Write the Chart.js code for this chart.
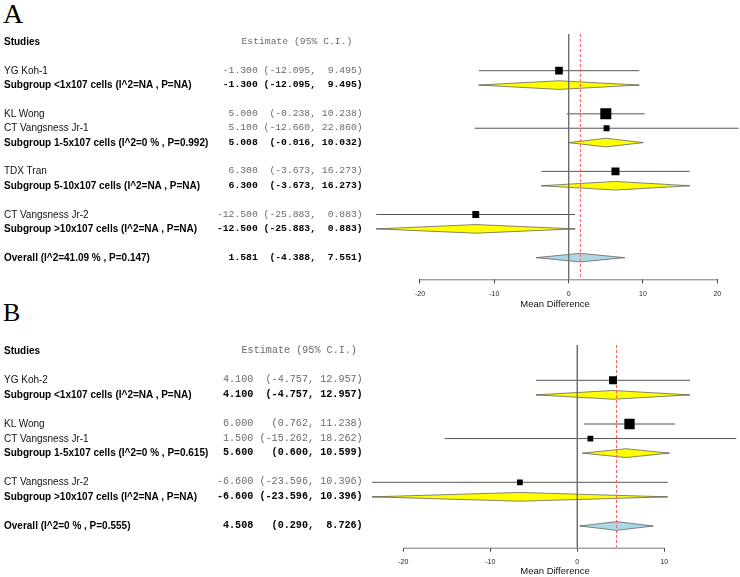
<!DOCTYPE html>
<html><head><meta charset="utf-8">
<script src="https://cdn.jsdelivr.net/npm/chart.js@4.4.0/dist/chart.umd.min.js"></script>
<style>
html,body{margin:0;padding:0;background:#fff;}
#wrap{position:relative;width:740px;height:577px;overflow:hidden;background:#fff;}
canvas{position:absolute;left:0;}
.t{position:absolute;white-space:pre;line-height:12px;transform:translateY(-50%);}
.lab{font-family:"Liberation Sans",Arial,sans-serif;font-size:10px;color:#111;}
.b{font-weight:bold;color:#000;}
.num{font-family:"Liberation Mono","Courier New",monospace;color:#6a6a6a;}
.num.b{color:#000;}
.letter{position:absolute;font-family:"Liberation Serif","Times New Roman",serif;color:#000;line-height:1;}
</style></head>
<body><div id="wrap">
<div class="letter" style="left:3px;top:0px;font-size:28px">A</div>
<div class="letter" style="left:3px;top:300px;font-size:26px">B</div>
<canvas id="ca" width="740" height="312" style="top:0;width:740px;height:312px"></canvas>
<canvas id="cb" width="740" height="266" style="top:311px;width:740px;height:266px"></canvas>
</div>
<script>
// ---------- Panel A data ----------
const studiesA = ["YG Koh-1", "KL Wong", "CT Vangsness Jr-1", "TDX Tran", "CT Vangsness Jr-2"];
const estA = [-1.300, 5.000, 5.100, 6.300, -12.500];
const loA  = [-12.095, -0.238, -12.660, -3.673, -25.883];
const hiA  = [9.495, 10.238, 22.860, 16.273, 0.883];
const groupA = [0, 1, 1, 2, 3];
const subLabelsA = ["Subgroup <1x107 cells (I^2=NA , P=NA)", "Subgroup 1-5x107 cells (I^2=0 % , P=0.992)",
                    "Subgroup 5-10x107 cells (I^2=NA , P=NA)", "Subgroup >10x107 cells (I^2=NA , P=NA)"];
const subEstA = [-1.300, 5.008, 6.300, -12.500];
const subLoA  = [-12.095, -0.016, -3.673, -25.883];
const subHiA  = [9.495, 10.032, 16.273, 0.883];
const overallLabelA = "Overall (I^2=41.09 % , P=0.147)";
const overallA = [1.581, -4.388, 7.551];
const ticksA = [-20, -10, 0, 10, 20];

// ---------- Panel B data ----------
const studiesB = ["YG Koh-2", "KL Wong", "CT Vangsness Jr-1", "CT Vangsness Jr-2"];
const estB = [4.100, 6.000, 1.500, -6.600];
const loB  = [-4.757, 0.762, -15.262, -23.596];
const hiB  = [12.957, 11.238, 18.262, 10.396];
const groupB = [0, 1, 1, 2];
const subLabelsB = ["Subgroup <1x107 cells (I^2=NA , P=NA)", "Subgroup 1-5x107 cells (I^2=0 % , P=0.615)",
                    "Subgroup >10x107 cells (I^2=NA , P=NA)"];
const subEstB = [4.100, 5.600, -6.600];
const subLoB  = [-4.757, 0.600, -23.596];
const subHiB  = [12.957, 10.599, 10.396];
const overallLabelB = "Overall (I^2=0 % , P=0.555)";
const overallB = [4.508, 0.290, 8.726];
const ticksB = [-20, -10, 0, 10];

// ---------- builders ----------
function buildRows(studies, est, lo, hi, group, subLabels, subEst, subLo, subHi, ovLabel, ov) {
  const rows = []; let r = 1;
  subLabels.forEach((lab, g) => {
    studies.forEach((s, i) => {
      if (group[i] === g) rows.push({type: 'study', label: s, est: est[i], lo: lo[i], hi: hi[i], y: r++});
    });
    rows.push({type: 'sub', label: lab, est: subEst[g], lo: subLo[g], hi: subHi[g], y: r++});
    r++;
  });
  rows.push({type: 'overall', label: ovLabel, est: ov[0], lo: ov[1], hi: ov[2], y: r});
  return rows;
}

const axisLinePlugin = {
  id: 'axisLine',
  afterDraw(chart, args, opts) {
    const xs = chart.scales.x, ctx = chart.ctx, y = chart.chartArea.bottom + 0.5;
    const t = opts.ticks;
    ctx.save();
    ctx.strokeStyle = '#777'; ctx.lineWidth = 1;
    ctx.beginPath();
    ctx.moveTo(xs.getPixelForValue(t[0]), y);
    ctx.lineTo(xs.getPixelForValue(t[t.length - 1]), y);
    ctx.stroke();
    ctx.restore();
  }
};

function makeChart(id, rows, cfg) {
  const ds = [];
  const H = 0.3; // diamond half height in row units
  ds.push({data: [{x: 0, y: cfg.yMin}, {x: 0, y: cfg.yMax}], showLine: true, borderColor: '#6e6e6e',
           borderWidth: 1, pointRadius: 0, order: 2});
  const ov = rows[rows.length - 1];
  ds.push({data: [{x: ov.est, y: cfg.yMin}, {x: ov.est, y: cfg.yMax}], showLine: true, borderColor: '#ff5a5a',
           borderWidth: 1, borderDash: [3, 2], pointRadius: 0, order: 2});
  const studyRows = rows.filter(r => r.type === 'study');
  const wts = studyRows.map(r => 1 / Math.pow((r.hi - r.lo) / 3.92, 2));
  const wmax = Math.max(...wts);
  studyRows.forEach(r => {
    ds.push({data: [{x: r.lo, y: r.y}, {x: r.hi, y: r.y}], showLine: true, borderColor: '#555',
             borderWidth: 1, pointRadius: 0, order: 3});
  });
  ds.push({data: studyRows.map(r => ({x: r.est, y: r.y})), showLine: false, pointStyle: 'rect',
           pointRadius: wts.map(w => cfg.maxSide * Math.pow(w / wmax, 0.25) / (2 * Math.SQRT1_2)),
           pointBackgroundColor: '#000', pointBorderWidth: 0, order: 1});
  rows.filter(r => r.type !== 'study').forEach(r => {
    ds.push({data: [{x: r.lo, y: r.y}, {x: r.hi, y: r.y}], showLine: true, borderColor: '#999',
             borderWidth: 1, pointRadius: 0, order: 4});
    ds.push({data: [{x: r.lo, y: r.y}, {x: r.est, y: r.y - H}, {x: r.hi, y: r.y}, {x: r.est, y: r.y + H}, {x: r.lo, y: r.y}],
             showLine: true, fill: 'shape', backgroundColor: r.type === 'sub' ? '#ffff00' : '#add8e6',
             borderColor: '#666', borderWidth: 0.8, borderJoinStyle: 'bevel', pointRadius: 0, tension: 0, order: 3});
  });
  return new Chart(document.getElementById(id), {
    type: 'scatter',
    data: {datasets: ds},
    plugins: [axisLinePlugin],
    options: {
      responsive: false, animation: false, events: [],
      layout: {autoPadding: false, padding: {left: 370, right: 0, top: cfg.padTop, bottom: 0}},
      plugins: {legend: {display: false}, tooltip: {enabled: false}, axisLine: {ticks: cfg.ticks}},
      scales: {
        x: {type: 'linear', position: 'bottom', min: cfg.xMin, max: cfg.xMax,
            afterBuildTicks: s => { s.ticks = cfg.ticks.map(v => ({value: v})); },
            afterFit: s => { s.height = cfg.axisH; s.paddingLeft = 0; s.paddingRight = 0; },
            border: {display: false},
            grid: {drawOnChartArea: false, drawTicks: true, tickLength: 4, tickColor: '#444', lineWidth: 1},
            ticks: {autoSkip: false, maxRotation: 0, padding: cfg.tickPad, color: '#222',
                    font: {family: 'Liberation Sans, Arial, sans-serif', size: 7}},
            title: {display: true, text: 'Mean Difference', color: '#111',
                    font: {family: 'Liberation Sans, Arial, sans-serif', size: 9.5},
                    padding: {top: 0, bottom: cfg.titlePad}}},
        y: {type: 'linear', display: false, reverse: true, min: cfg.yMin, max: cfg.yMax}
      }
    }
  });
}

function fmt(rows, r) {
  const e = r.est.toFixed(3), l = '(' + r.lo.toFixed(3) + ',', h = r.hi.toFixed(3) + ')';
  const we = Math.max(...rows.map(q => q.est.toFixed(3).length));
  const wl = Math.max(...rows.map(q => ('(' + q.lo.toFixed(3) + ',').length));
  const wh = Math.max(...rows.map(q => (q.hi.toFixed(3) + ')').length));
  return e.padStart(we) + ' ' + l.padStart(wl) + ' ' + h.padStart(wh);
}

function addText(txt, cls, top, style) {
  const d = document.createElement('div');
  d.className = 't ' + cls;
  d.textContent = txt;
  d.style.top = top + 'px';
  Object.assign(d.style, style);
  document.getElementById('wrap').appendChild(d);
}

function placeText(chart, canvasTop, rows, cfg) {
  const ys = chart.scales.y;
  const py = v => canvasTop + ys.getPixelForValue(v);
  addText('Studies', 'lab b', py(-1), {left: '4px'});
  addText('Estimate (95% C.I.)', 'num', py(-1), {left: '241.5px', fontSize: cfg.monoSize + 'px'});
  rows.forEach(r => {
    const bold = r.type !== 'study';
    addText(r.label, 'lab' + (bold ? ' b' : ''), py(r.y), {left: '4px'});
    addText(fmt(rows, r), 'num' + (bold ? ' b' : ''), py(r.y), {right: (740 - 362.7) + 'px', fontSize: cfg.monoSize + 'px'});
  });
}

// ---------- render ----------
const rowsA = buildRows(studiesA, estA, loA, hiA, groupA, subLabelsA, subEstA, subLoA, subHiA, overallLabelA, overallA);
const rowsB = buildRows(studiesB, estB, loB, hiB, groupB, subLabelsB, subEstB, subLoB, subHiB, overallLabelB, overallB);

const cfgA = {xMin: -26.727, xMax: 23.054, yMin: -1.552, yMax: 15.506, ticks: ticksA, padTop: 34,
              axisH: 32.7, tickPad: 6.8, titlePad: 2.3, maxSide: 11, monoSize: 9.72};
const cfgB = {xMin: -23.83, xMax: 18.70, yMin: -1.423, yMax: 12.49, ticks: ticksB, padTop: 34,
              axisH: 29.3, tickPad: 6.1, titlePad: 0, maxSide: 10.3, monoSize: 10.13};

const chartA = makeChart('ca', rowsA, cfgA);
const chartB = makeChart('cb', rowsB, cfgB);
placeText(chartA, 0, rowsA, cfgA);
placeText(chartB, 311, rowsB, cfgB);
</script>
</body></html>
